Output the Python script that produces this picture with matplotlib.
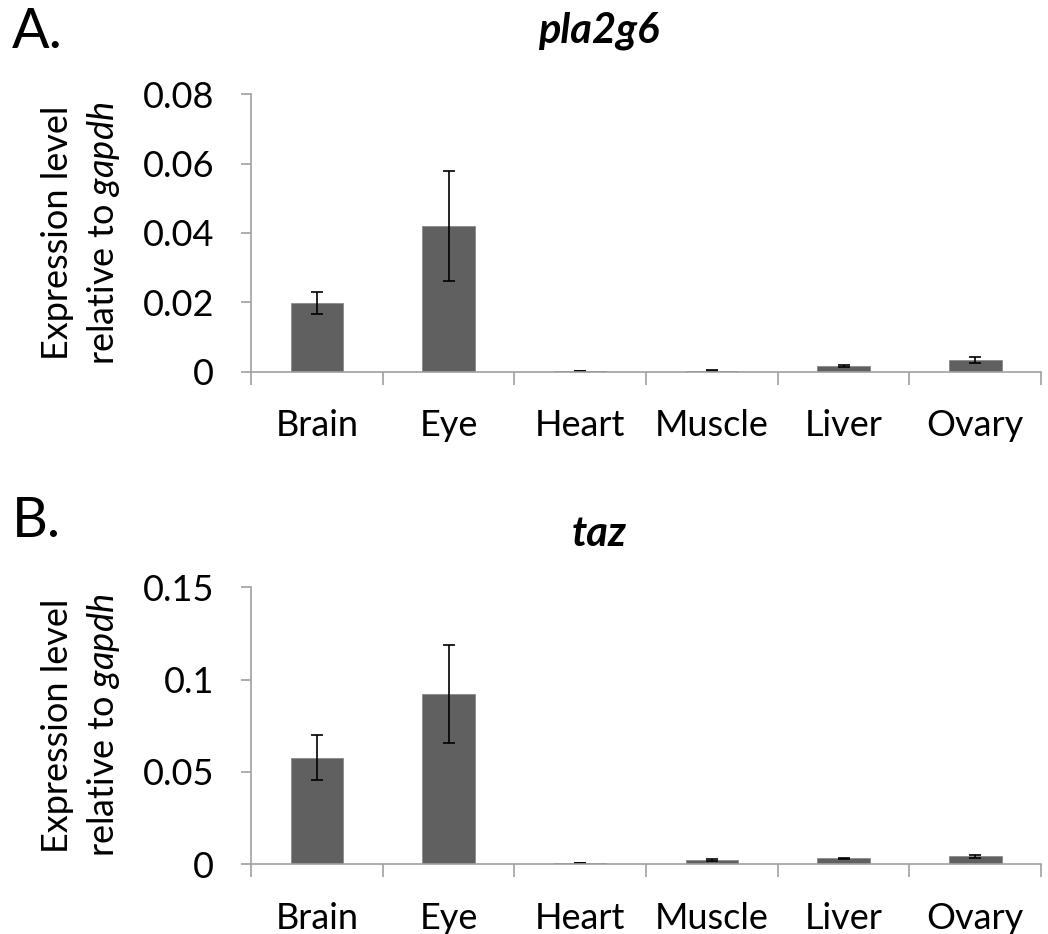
import matplotlib
matplotlib.use("Agg")
import matplotlib.pyplot as plt
import numpy as np

plt.rcParams["font.family"] = ["Lato", "DejaVu Sans"]
plt.rcParams["mathtext.fontset"] = "custom"
plt.rcParams["mathtext.rm"] = "Lato"
plt.rcParams["mathtext.it"] = "Lato:italic"

tissues = ["Brain", "Eye", "Heart", "Muscle", "Liver", "Ovary"]

# relative expression (mean, error)
pla2g6_mean = [0.0198, 0.0420, 0.0002, 0.0003, 0.0017, 0.0034]
pla2g6_err = [0.0032, 0.0158, 0.0001, 0.0001, 0.0003, 0.0008]
taz_mean = [0.0578, 0.0922, 0.0007, 0.0023, 0.0033, 0.0043]
taz_err = [0.0123, 0.0263, 0.0002, 0.0004, 0.0002, 0.0009]

pla2g6_ticks = [0, 0.02, 0.04, 0.06, 0.08]
pla2g6_ticklabels = ["0", "0.02", "0.04", "0.06", "0.08"]
taz_ticks = [0, 0.05, 0.1, 0.15]
taz_ticklabels = ["0", "0.05", "0.1", "0.15"]

W, H = 1048, 934
fig = plt.figure(figsize=(W / 100, H / 100), dpi=100)

axis_grey = "#a0a0a0"
bar_grey = "#606060"
fs = 26


def panel(rect, means, errs, ticks, ticklabels, title, letter, letter_y, title_y):
    ax = fig.add_axes(rect)
    x = np.arange(len(tissues))
    ax.bar(x, means, width=0.4, color=bar_grey, edgecolor="#8a8a8a", linewidth=0.6,
           yerr=errs, error_kw=dict(ecolor="black", elinewidth=1.2, capsize=4, capthick=1.2))
    ax.set_xlim(-0.5, len(tissues) - 0.5)
    ax.set_ylim(ticks[0], ticks[-1])

    ax.set_xticks(x)
    ax.set_xticklabels(tissues, fontsize=fs)
    ax.set_xticks(np.arange(len(tissues) + 1) - 0.5, minor=True)
    ax.tick_params(axis="x", which="major", length=0, pad=27)
    ax.tick_params(axis="x", which="minor", length=9, width=1.2, color=axis_grey, direction="out")

    ax.set_yticks(ticks)
    ax.set_yticklabels(ticklabels, fontsize=fs)
    ax.tick_params(axis="y", length=7.5, width=1.2, color=axis_grey, direction="out", pad=19)

    for side in ("top", "right"):
        ax.spines[side].set_visible(False)
    for side in ("left", "bottom"):
        ax.spines[side].set_color(axis_grey)
        ax.spines[side].set_linewidth(1.2)

    # two-line y label, second line with italic gene name
    ymid = rect[1] + rect[3] / 2
    fig.text(57 / W, ymid, "Expression level", rotation=90, fontsize=fs,
             ha="center", va="center")
    fig.text(104 / W, ymid, r"relative to $gapdh$", rotation=90, fontsize=fs,
             ha="center", va="center")

    fig.text(599 / W, 1 - title_y / H, title, fontsize=30, fontweight="bold",
             fontstyle="italic", ha="center", va="baseline")
    fig.text(12 / W, 1 - letter_y / H, letter, fontsize=40, ha="left", va="baseline")
    return ax


panel([251 / W, (H - 371.7) / H, 790 / W, (371.7 - 94.3) / H],
      pla2g6_mean, pla2g6_err, pla2g6_ticks, pla2g6_ticklabels,
      "pla2g6", "A.", 48, 43)
panel([251 / W, (H - 864.3) / H, 790 / W, (864.3 - 587.3) / H],
      taz_mean, taz_err, taz_ticks, taz_ticklabels,
      "taz", "B.", 537, 546)

fig.savefig("out.png", dpi=100)
